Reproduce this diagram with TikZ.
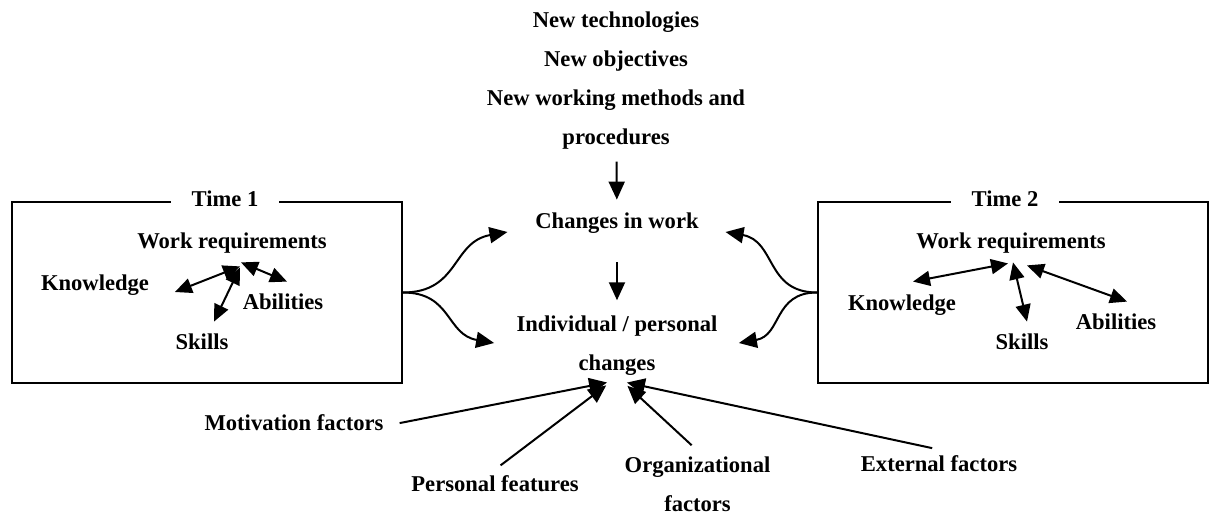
\documentclass[tikz,border=0pt]{standalone}
\usepackage{fontspec}
\setmainfont{Liberation Serif}
\usetikzlibrary{arrows.meta,positioning}

\begin{document}
\begin{tikzpicture}[
  x=0.5pt,y=0.5pt,
  every node/.style={font=\fontsize{11.3}{19.5}\selectfont\bfseries},
  lbl/.style={inner sep=3pt,text height=7.6pt,text depth=2.4pt},
  timebox/.style={draw,line width=1pt,minimum width=195pt,minimum height=90.5pt,inner sep=0pt},
  timetag/.style={fill=white,inner xsep=10.5pt,inner ysep=1pt,text height=7.6pt,text depth=2.4pt},
  arrow/.style={-{Triangle[length=9pt,width=8pt]},line width=1pt},
  dblarrow/.style={{Triangle[length=8.5pt,width=7.5pt]}-{Triangle[length=8.5pt,width=7.5pt]},line width=1pt}
]
\useasboundingbox (0,0) rectangle (1210,515);

\node[align=center,inner sep=3pt] (drivers) at (616,434.5) {New technologies\\New objectives\\New working methods and\\procedures};
\node[lbl] (work) at (617,292) {Changes in work};
\node[align=center,inner sep=3pt] (indiv) at (617,169.5) {Individual / personal\\changes};
\draw[arrow,shorten <=3pt,shorten >=3.5pt] (drivers) -- (work);
\draw[arrow,shorten <=11.5pt,shorten >=4.5pt] (work) -- (indiv);

% time 1
\node[timebox] (t1) at (207,222.5) {};
\node[timetag,xshift=9pt] (time1) at (t1.north) {Time 1};
\node[lbl] (wr1) at (232,272) {Work requirements};
\node[lbl] (kn1) at (95,230) {Knowledge};
\node[lbl] (sk1) at (202,171) {Skills};
\node[lbl] (ab1) at (283,211) {Abilities};
\draw[dblarrow] ([xshift=4pt,yshift=-3.5pt]wr1.south) -- ([xshift=9.75pt,yshift=-3.5pt]kn1.east);
\draw[dblarrow] ([xshift=4pt,yshift=-4pt]wr1.south) -- ([xshift=6pt,yshift=3pt]sk1.north);
\draw[dblarrow] ([xshift=4.5pt,yshift=-1.5pt]wr1.south) -- ([xshift=2pt,yshift=3pt]ab1.north);

% time 2
\node[timebox] (t2) at (1013,222.5) {};
\node[timetag,xshift=-4pt] (time2) at (t2.north) {Time 2};
\node[lbl] (wr2) at (1011,272) {Work requirements};
\node[lbl] (kn2) at (902,210) {Knowledge};
\node[lbl] (sk2) at (1022,171) {Skills};
\node[lbl] (ab2) at (1116,191) {Abilities};
\draw[dblarrow] ([xshift=-1.5pt,yshift=-2pt]wr2.south) -- ([xshift=5.5pt,yshift=3.5pt]kn2.north);
\draw[dblarrow] ([xshift=1pt,yshift=-1.5pt]wr2.south) -- ([xshift=2.5pt,yshift=3pt]sk2.north);
\draw[dblarrow] ([xshift=8pt,yshift=-3pt]wr2.south) -- ([xshift=5.5pt,yshift=3pt]ab2.north);

\draw[arrow] (t1.east) to[out=0,in=190,looseness=1.2] ([xshift=-10.75pt,yshift=-4.5pt]work.west);
\draw[arrow] (t1.east) to[out=0,in=170,looseness=1.2] ([xshift=-8pt,yshift=1.25pt]indiv.west);
\draw[arrow] (t2.west) to[out=180,in=-10,looseness=1.2] ([xshift=10.25pt,yshift=-4.5pt]work.east);
\draw[arrow] (t2.west) to[out=180,in=10,looseness=1.2] ([xshift=7.5pt,yshift=1.25pt]indiv.east);

% influencing factors
\node[lbl] (motiv) at (294,90) {Motivation factors};
\node[lbl] (pers) at (495,29) {Personal features};
\node[align=center,inner sep=3pt] (org) at (697.5,30.5) {Organizational\\factors};
\node[lbl] (ext) at (939,49) {External factors};
\draw[arrow,shorten <=5pt,shorten >=2pt] (motiv.east) -- ([xshift=-3pt]indiv.south);
\draw[arrow,shorten <=3.5pt,shorten >=3pt] (pers.north) -- ([xshift=-3pt]indiv.south);
\draw[arrow,shorten <=4pt,shorten >=3pt] (org.north) -- ([xshift=3pt]indiv.south);
\draw[arrow,shorten <=3.5pt,shorten >=2pt] (ext.north) -- ([xshift=3pt]indiv.south);
\end{tikzpicture}
\end{document}
